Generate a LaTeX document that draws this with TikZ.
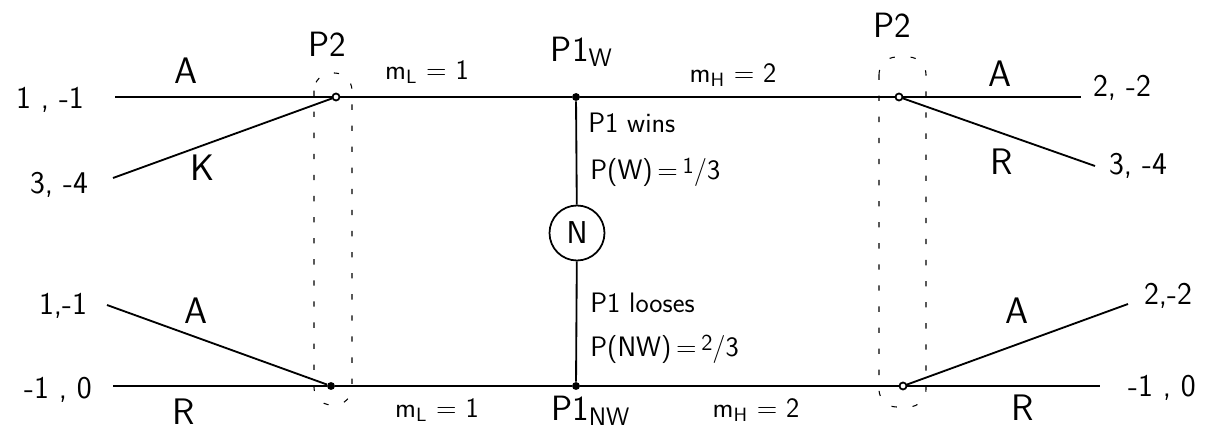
\documentclass[tikz,border=0pt]{standalone}
\newcommand{\sfrac}[2]{{\raisebox{0.45ex}{\fontsize{13}{13}\selectfont #1}}/#2}
\begin{document}
\begin{tikzpicture}[x=0.02cm,y=-0.02cm,
  edge/.style={line width=1.05pt},
  dotnode/.style={circle, fill=black, inner sep=0pt, minimum size=4.5pt},
  ringnode/.style={circle, draw, line width=1pt, fill=white, inner sep=0pt, minimum size=4pt},
  lbl/.style={font=\sffamily\fontsize{16}{19}\selectfont, inner sep=0pt},
  pay/.style={font=\sffamily\fontsize{18}{21}\selectfont, inner sep=0pt},
  plr/.style={font=\sffamily\fontsize{20}{23}\selectfont, inner sep=0pt},
  act/.style={font=\sffamily\fontsize{21}{24}\selectfont, inner sep=0pt},
  infoset/.style={dash pattern=on 3pt off 9pt, line width=0.6pt, rounded corners=10pt},
  chance/.style={circle, draw, line width=1pt, minimum size=1.1cm, inner sep=0pt, font=\sffamily\fontsize{18}{20}\selectfont}
]
\useasboundingbox (0,0) rectangle (1207,432);

% decision nodes
\node[ringnode] (p2a) at (336,97) {};
\node[dotnode] (p2b) at (331,386) {};
\node[dotnode] (w) at (576,97) {};
\node[dotnode] (nw) at (576,386) {};
\node[chance] (n) at (577,233) {N};
\node[ringnode] (p2c) at (899,97) {};
\node[ringnode] (p2d) at (903,386) {};

% terminal ends
\coordinate (t1) at (115,97);
\coordinate (t2) at (113,178);
\coordinate (t3) at (107,305);
\coordinate (t4) at (113,386);
\coordinate (t5) at (1081,97);
\coordinate (t6) at (1095,166);
\coordinate (t7) at (1128,304);
\coordinate (t8) at (1100,386);

% edges
\draw[edge] (n) -- (w);
\draw[edge] (n) -- (nw);
\draw[edge] (w) -- (p2a);
\draw[edge] (w) -- (p2c);
\draw[edge] (nw) -- (p2b);
\draw[edge] (nw) -- (p2d);
\draw[edge] (p2a) -- (t1);
\draw[edge] (p2a) -- (t2);
\draw[edge] (p2b) -- (t3);
\draw[edge] (p2b) -- (t4);
\draw[edge] (p2c) -- (t5);
\draw[edge] (p2c) -- (t6);
\draw[edge] (p2d) -- (t7);
\draw[edge] (p2d) -- (t8);

% information sets
\draw[infoset] (314,73) rectangle (352,405);
\draw[infoset] (879,57) rectangle (926,407);

% payoffs
\node[pay] (pay1) at (50,100) {1 , -1};
\node[pay] (pay2) at (59,185) {3, -4};
\node[pay] (pay3) at (63,306) {1,-1};
\node[pay] (pay4) at (58,390) {-1 , 0};
\node[pay] (pay5) at (1122,88) {2, -2};
\node[pay] (pay6) at (1138,166) {3, -4};
\node[pay] (pay7) at (1168,296) {2,-2};
\node[pay] (pay8) at (1162,388) {-1 , 0};

% action labels
\node[act] (aA1) at (186,71) {A};
\node[act] (aK1) at (203,168) {K};
\node[act] (aA2) at (196,311) {A};
\node[act] (aR2) at (184,412) {R};
\node[act] (aA3) at (1000,74) {A};
\node[act] (aR3) at (1002,162) {R};
\node[act] (aA4) at (1017,311) {A};
\node[act] (aR4) at (1023,408) {R};

% player labels
\node[plr] (lp2a) at (327,44) {P2};
\node[plr] (lp2c) at (892,25) {P2};
\node[plr] (lw) at (582,52) {P1$_{\mathsf{W}}$};
\node[plr] (lnw) at (591,411) {P1$_{\mathsf{NW}}$};

% message labels
\node[lbl] (ml1) at (427,72) {m$_{\mathsf{L}}$ = 1};
\node[lbl] (mh1) at (733,75) {m$_{\mathsf{H}}$ = 2};
\node[lbl] (ml2) at (437,410) {m$_{\mathsf{L}}$ = 1};
\node[lbl] (mh2) at (756,410) {m$_{\mathsf{H}}$ = 2};

% chance labels
\node[lbl, anchor=west] (wins) at (588,123) {P1 wins};
\node[lbl, anchor=west] (pw) at (590,172) {P(W)\,=\,\sfrac{1}{3}};
\node[lbl, anchor=west] (loses) at (590,303) {P1 looses};
\node[lbl, anchor=west] (pnw) at (590,349) {P(NW)\,=\,\sfrac{2}{3}};
\end{tikzpicture}
\end{document}
